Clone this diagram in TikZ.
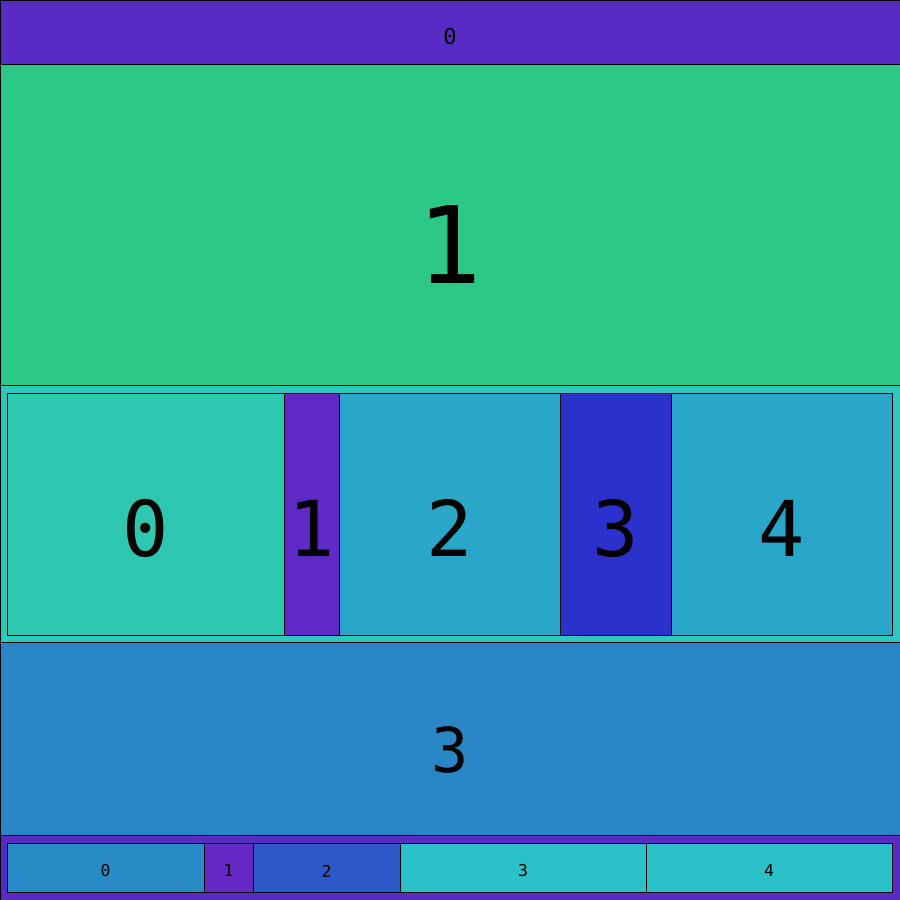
\documentclass[tikz,border=0pt]{standalone}
\usepackage{fontspec}
\usepackage{tikz}
\newfontfamily\monofont{DejaVu Sans Mono}
\definecolor{bandPurple}{HTML}{582BC4}
\definecolor{bandGreen}{HTML}{2CC885}
\definecolor{bandTeal}{HTML}{2EC8BE}
\definecolor{bandBlue}{HTML}{2A87C5}
\definecolor{midTeal}{HTML}{2DC8AF}
\definecolor{midViolet}{HTML}{5F2AC5}
\definecolor{midCyan}{HTML}{2AA7C8}
\definecolor{midIndigo}{HTML}{2B32CB}
\definecolor{lowBlue}{HTML}{2A8CC6}
\definecolor{lowViolet}{HTML}{662AC4}
\definecolor{lowRoyal}{HTML}{2D58C8}
\definecolor{lowCyan}{HTML}{2BC1C8}

\begin{document}
\begin{tikzpicture}[
  x=0.5pt, y=-0.5pt,
  cell/.style={draw=black, line width=0.5pt},
  lbl/.style={inner sep=0pt, font=\monofont\fontsize{#1}{#1}\selectfont}
]
\useasboundingbox (0,0) rectangle (900,900);

% horizontal bands
\draw[cell, fill=bandPurple] (0,0) rectangle (900,64);
\draw[cell, fill=bandGreen] (0,64) rectangle (900,385);
\draw[cell, fill=bandTeal] (0,385) rectangle (900,642);
\draw[cell, fill=bandBlue] (0,642) rectangle (900,835);
\draw[cell, fill=bandPurple] (0,835) rectangle (900,900);

% middle row
\draw[cell, fill=midTeal] (7,393) rectangle (284,635);
\draw[cell, fill=midViolet] (284,393) rectangle (339,635);
\draw[cell, fill=midCyan] (339,393) rectangle (560,635);
\draw[cell, fill=midIndigo] (560,393) rectangle (671,635);
\draw[cell, fill=midCyan] (671,393) rectangle (892,635);

% bottom row
\draw[cell, fill=lowBlue] (7,843) rectangle (204,892);
\draw[cell, fill=lowViolet] (204,843) rectangle (253,892);
\draw[cell, fill=lowRoyal] (253,843) rectangle (400,892);
\draw[cell, fill=lowCyan] (400,843) rectangle (646,892);
\draw[cell, fill=lowCyan] (646,843) rectangle (892,892);

% labels
\node[lbl=11] (top0) at (450,36) {0};
\node[lbl=53.5] (green1) at (450,244) {1};
\node[lbl=38.5] (mid0) at (145.5,528) {0};
\node[lbl=38.5] (mid1) at (311.5,528) {1};
\node[lbl=38.5] (mid2) at (449.5,528) {2};
\node[lbl=38.5] (mid3) at (615.5,528) {3};
\node[lbl=38.5] (mid4) at (781.5,528) {4};
\node[lbl=31] (blue3) at (450,750) {3};
\node[lbl=8.2] (low0) at (105.5,871) {0};
\node[lbl=8.2] (low1) at (228.5,871) {1};
\node[lbl=8.2] (low2) at (326.5,871) {2};
\node[lbl=8.2] (low3) at (523,871) {3};
\node[lbl=8.2] (low4) at (769,871) {4};
\end{tikzpicture}
\end{document}
